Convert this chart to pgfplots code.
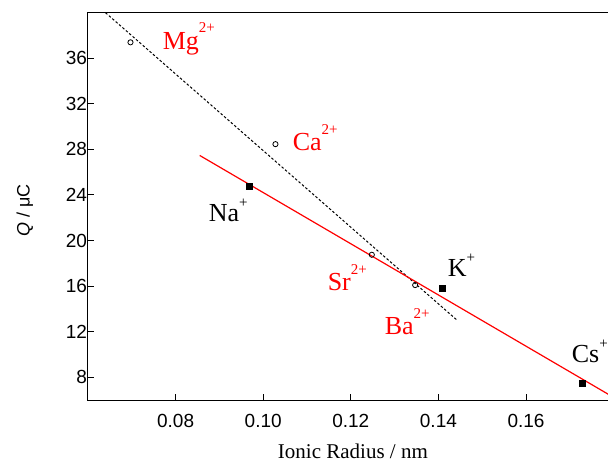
\documentclass[border=0pt]{standalone}
\usepackage{fontspec}
\setmainfont{Liberation Serif}
\newfontfamily\sansfont{Liberation Sans}
\usepackage{pgfplots}
\pgfplotsset{compat=1.18}
\newcommand\sups[1]{\raisebox{16.5pt}{\fontsize{15}{15}\selectfont #1}}
\newcommand\supp{\raisebox{13.5pt}{\fontsize{15}{15}\selectfont +}}
\begin{document}
\begin{tikzpicture}
\begin{axis}[
  scale only axis, width=525.6pt, height=387.3pt,
  xmin=0.06, xmax=0.18, ymin=6, ymax=40,
  xtick={0.08,0.10,0.12,0.14,0.16}, ytick={8,12,...,36},
  xtick pos=bottom, ytick pos=left, tick align=inside,
  major tick length=6pt,
  axis line style={line width=1pt},
  tick style={line width=1pt, black},
  /pgf/number format/assume math mode=true,
  xticklabel style={/pgf/number format/fixed, /pgf/number format/fixed zerofill, /pgf/number format/precision=2, yshift=-11pt},
  yticklabel style={xshift=2.5pt},
  ticklabel style={font=\sansfont\fontsize{19}{21}\selectfont},
  xlabel={Ionic Radius / nm},
  xlabel style={font=\fontsize{21}{24}\selectfont, at={(axis description cs:0.504,-0.152)}, anchor=base},
  ylabel={\textit{Q}\sansfont{} / μC},
  ylabel style={font=\sansfont\fontsize{18}{22}\selectfont, at={(axis description cs:-0.12,0.49)}, anchor=center},
  clip=true,
]
% dashed fit (2+ ions)
\addplot[black, line width=1pt, dash pattern=on 2.5pt off 2pt] coordinates {(0.064,40) (0.1442,13.03)};
% red fit (+ ions)
\addplot[red, line width=1.2pt] coordinates {(0.0855,27.47) (0.18,6.23)};
% 2+ ions
\addplot[only marks, mark=o, mark size=2.6pt, black, line width=0.8pt] coordinates {
  (0.0697,37.40) (0.1028,28.46) (0.1248,18.75) (0.1347,16.09)};
% + ions
\addplot[only marks, mark=square*, mark size=3pt, black] coordinates {
  (0.0967,24.75) (0.1409,15.80) (0.1729,7.51)};
\begin{scope}[every node/.style={font=\fontsize{26}{28}\selectfont, anchor=base west, inner sep=0pt}]
\node[red] at (axis cs:0.07703,36.81) {Mg\sups{2+}};
\node[red] at (axis cs:0.10671,27.886) {Ca\sups{2+}};
\node[black] at (axis cs:0.08753,21.684) {Na\supp};
\node[red] at (axis cs:0.11470,15.605) {Sr\sups{2+}};
\node[red] at (axis cs:0.12772,11.719) {Ba\sups{2+}};
\node[black] at (axis cs:0.14210,16.860) {K\supp};
\node[black] at (axis cs:0.17041,9.316) {Cs\supp};
\end{scope}
\end{axis}
\pgfresetboundingbox
\useasboundingbox (-88pt,-64pt) rectangle (520pt,400pt);
\end{tikzpicture}
\end{document}
